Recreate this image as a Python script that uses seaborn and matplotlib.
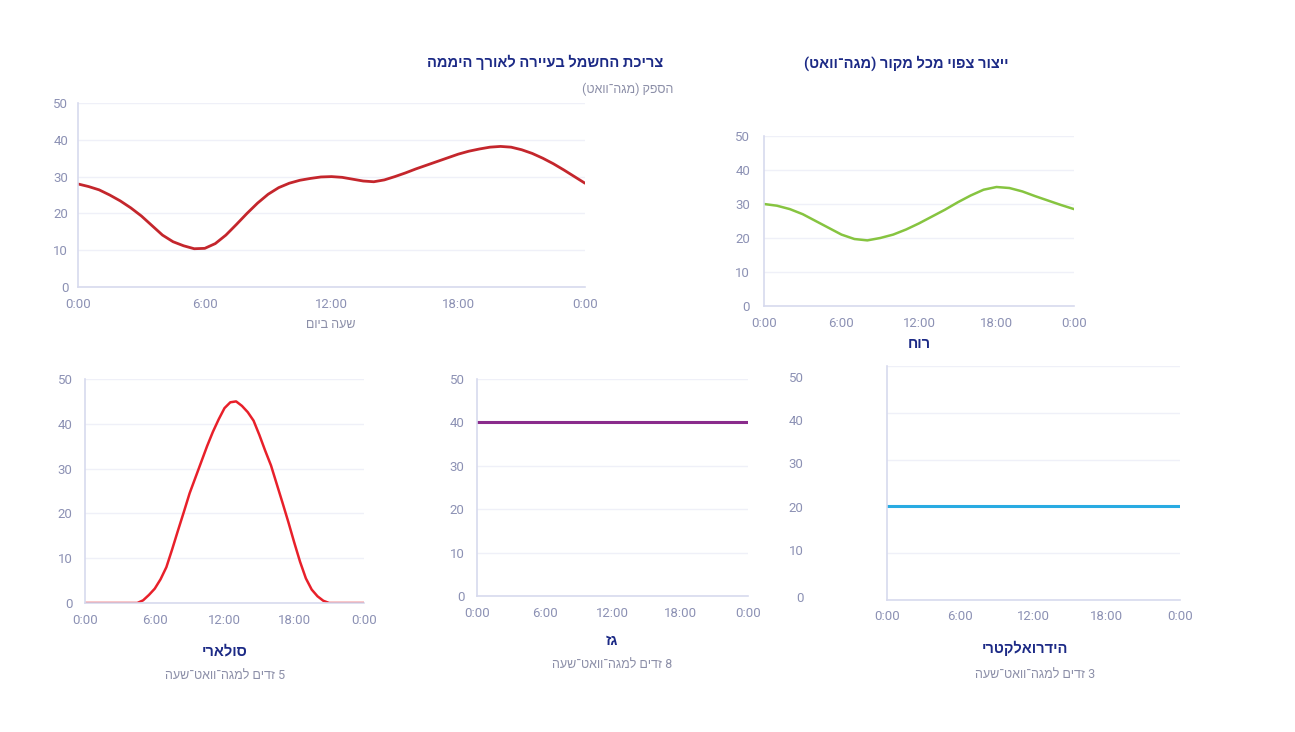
import matplotlib
matplotlib.use("Agg")
import matplotlib.pyplot as plt
import seaborn as sns
import numpy as np
import pandas as pd

# --- data ---
hours = list(range(25))
half_hours = [h / 2 for h in range(49)]
demand = [28, 27.3, 26.4, 25, 23.4, 21.5, 19.3, 16.7, 14.1, 12.3, 11.2, 10.4, 10.5,
          11.8, 14.1, 17, 20, 22.8, 25.2, 27, 28.2, 29, 29.5, 29.9, 30, 29.8, 29.3,
          28.8, 28.6, 29.1, 30, 31, 32.1, 33.1, 34.1, 35.1, 36.1, 36.9, 37.5, 38,
          38.2, 38, 37.3, 36.3, 35, 33.5, 31.8, 30, 28.2]
wind = [30, 29.5, 28.5, 27, 25, 23, 21, 19.7, 19.3, 20, 21, 22.5, 24.3, 26.3, 28.3,
        30.5, 32.5, 34.2, 35, 34.7, 33.7, 32.3, 31, 29.7, 28.5]
solar = [0, 0, 0, 0, 0, 0, 0, 0, 0, 0, 0.6, 1.8, 3.2, 5.3, 8, 12, 16.2, 20.3, 24.5,
         28, 31.5, 35, 38.2, 41, 43.5, 44.8, 45, 44, 42.6, 40.7, 37.5, 34, 30.7,
         26.5, 22.3, 18, 13.5, 9.2, 5.5, 3, 1.5, 0.5, 0, 0, 0, 0, 0, 0, 0]
gas = [40] * 25
hydro = [20] * 25

x_ticks = [0, 6, 12, 18, 24]
x_labels = ["0:00", "6:00", "12:00", "18:00", "0:00"]
y_ticks = [0, 10, 20, 30, 40, 50]

title_main = "צריכת החשמל בעיירה לאורך היממה"
ylabel_main = "הספק (מגה־וואט)"
xlabel_main = "שעה ביום"
title_sources = "ייצור צפוי מכל מקור (מגה־וואט)"
source_names = ["רוח", "סולארי", "גז", "הידרואלקטרי"]
source_costs = [None, "5 זדים למגה־וואט־שעה", "8 זדים למגה־וואט־שעה", "3 זדים למגה־וואט־שעה"]


def rtl(s):
    # matplotlib has no bidi support: reverse to visual order, mirror brackets
    swap = {"(": ")", ")": "("}
    return "".join(swap.get(c, c) for c in s[::-1])


sns.set_theme(style="white")
plt.rcParams["font.family"] = ["Roboto", "Liberation Sans", "DejaVu Sans"]

W, H = 1295, 732
fig = plt.figure(figsize=(W / 100, H / 100), dpi=100)
fig.patch.set_facecolor("white")

TICK = "#8c91b4"
SPINE = "#d7daee"
GRID = "#eff0f8"
NAVY = "#1c2a86"
GRAYTXT = "#8c8fa8"


def add_ax(left, right, top, bottom):
    return fig.add_axes([left / W, 1 - bottom / H, (right - left) / W, (bottom - top) / H])


def style(ax, ypad, grid=True):
    ax.set_xlim(0, 24)
    ax.set_ylim(0, 50)
    ax.set_xticks(x_ticks)
    ax.set_xticklabels(x_labels)
    ax.set_xlabel("")
    ax.set_ylabel("")
    for s in ["top", "right"]:
        ax.spines[s].set_visible(False)
    for s in ["left", "bottom"]:
        ax.spines[s].set_color(SPINE)
        ax.spines[s].set_linewidth(1.2)
    ax.tick_params(axis="x", colors=TICK, labelsize=9.5, length=4, width=1, color=SPINE, pad=4, direction="out")
    ax.tick_params(axis="y", colors=TICK, labelsize=9.5, length=0, pad=ypad)
    if grid:
        ax.set_yticks(y_ticks)
        ax.yaxis.grid(True, color=GRID, linewidth=1)
    ax.set_axisbelow(True)


def ftext(x, y, s, **kw):
    fig.text(x / W, 1 - y / H, s, **kw)


# --- demand chart ---
ax1 = add_ax(78, 585, 103, 287)
sns.lineplot(ax=ax1, x=half_hours, y=demand, color="#c4262c", linewidth=2.0)
style(ax1, 7)
ftext(663, 62, rtl(title_main), ha="right", va="center", fontsize=10.5, fontweight="bold", color=NAVY)
ftext(673, 89, rtl(ylabel_main), ha="right", va="center", fontsize=9, color=GRAYTXT)
ftext(331, 324, rtl(xlabel_main), ha="center", va="center", fontsize=9, color=GRAYTXT)

# --- wind ---
ax2 = add_ax(764, 1074, 136, 306)
sns.lineplot(ax=ax2, x=hours, y=wind, color="#86c440", linewidth=1.8)
style(ax2, 10)
ftext(906, 63, rtl(title_sources), ha="center", va="center", fontsize=10.5, fontweight="bold", color=NAVY)
ftext(919, 344, rtl(source_names[0]), ha="center", va="center", fontsize=10.5, fontweight="bold", color=NAVY)

# --- solar ---
ax3 = add_ax(85, 364, 379, 603)
sns.lineplot(ax=ax3, x=half_hours, y=solar, color="#e8202a", linewidth=1.8)
style(ax3, 9)
ftext(225, 651, rtl(source_names[1]), ha="center", va="center", fontsize=10.5, fontweight="bold", color=NAVY)
ftext(225, 675, rtl(source_costs[1]), ha="center", va="center", fontsize=9, color=GRAYTXT)

# --- gas ---
ax4 = add_ax(477, 748, 379, 596)
sns.lineplot(ax=ax4, x=hours, y=gas, color="#8a2c8c", linewidth=2.2)
style(ax4, 9)
ftext(612, 641, rtl(source_names[2]), ha="center", va="center", fontsize=10.5, fontweight="bold", color=NAVY)
ftext(612, 664, rtl(source_costs[2]), ha="center", va="center", fontsize=9, color=GRAYTXT)

# --- hydro: labels sit slightly off the gridlines in the reference ---
ax5 = add_ax(887, 1180, 366, 600)
sns.lineplot(ax=ax5, x=hours, y=hydro, color="#29abe2", linewidth=2.2)
style(ax5, 60, grid=False)
ax5.set_yticks(y_ticks, minor=True)
ax5.set_yticks([0.6, 10.7, 19.9, 29.3, 38.5, 47.6])
ax5.set_yticklabels([str(v) for v in y_ticks])
ax5.tick_params(axis="y", which="minor", length=0)
ax5.yaxis.grid(True, which="minor", color=GRID, linewidth=1)
ax5.yaxis.grid(False, which="major")
ax5.tick_params(axis="x", direction="inout", length=6)
ftext(1025, 648, rtl(source_names[3]), ha="center", va="center", fontsize=10.5, fontweight="bold", color=NAVY)
ftext(1035, 674, rtl(source_costs[3]), ha="center", va="center", fontsize=9, color=GRAYTXT)

fig.savefig("out.png", dpi=100, facecolor="white")
